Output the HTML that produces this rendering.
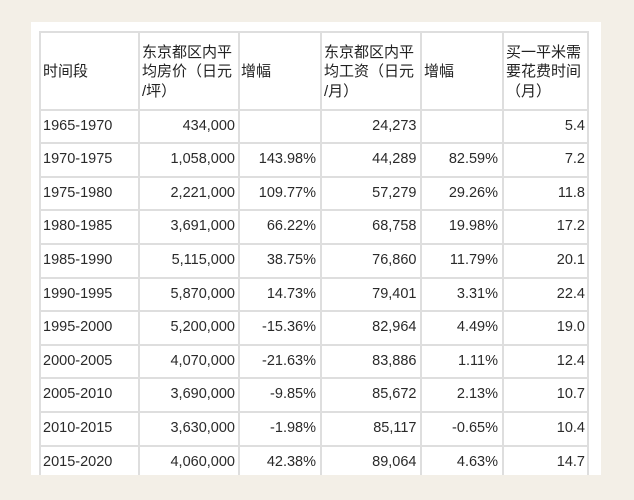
<!DOCTYPE html>
<html><head><meta charset="utf-8">
<style>
html,body{margin:0;padding:0;}
body{width:634px;height:500px;background:#f3efe7;position:relative;overflow:hidden;font-family:"Liberation Sans","Noto Sans CJK SC",sans-serif;color:#2a2a2a;}
.card{position:absolute;left:31px;top:22px;width:570px;height:453px;background:#fff;overflow:hidden;}
.v{position:absolute;width:2px;background:#dedede;top:10px;height:460px;}
.h{position:absolute;height:2px;background:#dedede;left:8px;width:550px;}
.c{position:absolute;font-size:14.5px;height:33.6px;line-height:33.6px;white-space:nowrap;}
.r{text-align:right;}
.hd{position:absolute;font-size:15px;line-height:19.5px;white-space:nowrap;color:#222;}
</style></head><body>
<div class="card">
<div class="v" style="left:7.5px"></div>
<div class="v" style="left:107px"></div>
<div class="v" style="left:206.5px"></div>
<div class="v" style="left:289px"></div>
<div class="v" style="left:389px"></div>
<div class="v" style="left:471px"></div>
<div class="v" style="left:556px"></div>
<div class="h" style="top:9px"></div>
<div class="h" style="top:86.5px"></div>
<div class="h" style="top:120.1px"></div>
<div class="h" style="top:153.7px"></div>
<div class="h" style="top:187.3px"></div>
<div class="h" style="top:220.9px"></div>
<div class="h" style="top:254.5px"></div>
<div class="h" style="top:288.1px"></div>
<div class="h" style="top:321.7px"></div>
<div class="h" style="top:355.3px"></div>
<div class="h" style="top:388.9px"></div>
<div class="h" style="top:422.5px"></div>

<div class="hd" style="left:12px;top:40px">时间段</div>
<div class="hd" style="left:111px;top:20.5px">东京都区内平<br>均房价（日元<br>/坪）</div>
<div class="hd" style="left:210px;top:40px">增幅</div>
<div class="hd" style="left:293px;top:20.5px">东京都区内平<br>均工资（日元<br>/月）</div>
<div class="hd" style="left:393px;top:40px">增幅</div>
<div class="hd" style="left:475px;top:20.5px">买一平米需<br>要花费时间<br>（月）</div>
</div>

<div style="position:absolute;left:31px;top:22px;width:570px;height:453px;overflow:hidden;">
<div class="c" style="left:12px;top:87.5px">1965-1970</div>
<div class="c r" style="right:366px;top:87.5px">434,000</div>
<div class="c r" style="right:184.5px;top:87.5px">24,273</div>
<div class="c r" style="right:16px;top:87.5px">5.4</div>

<div class="c" style="left:12px;top:121.1px">1970-1975</div>
<div class="c r" style="right:366px;top:121.1px">1,058,000</div>
<div class="c r" style="right:285px;top:121.1px">143.98%</div>
<div class="c r" style="right:184.5px;top:121.1px">44,289</div>
<div class="c r" style="right:103px;top:121.1px">82.59%</div>
<div class="c r" style="right:16px;top:121.1px">7.2</div>

<div class="c" style="left:12px;top:154.7px">1975-1980</div>
<div class="c r" style="right:366px;top:154.7px">2,221,000</div>
<div class="c r" style="right:285px;top:154.7px">109.77%</div>
<div class="c r" style="right:184.5px;top:154.7px">57,279</div>
<div class="c r" style="right:103px;top:154.7px">29.26%</div>
<div class="c r" style="right:16px;top:154.7px">11.8</div>

<div class="c" style="left:12px;top:188.3px">1980-1985</div>
<div class="c r" style="right:366px;top:188.3px">3,691,000</div>
<div class="c r" style="right:285px;top:188.3px">66.22%</div>
<div class="c r" style="right:184.5px;top:188.3px">68,758</div>
<div class="c r" style="right:103px;top:188.3px">19.98%</div>
<div class="c r" style="right:16px;top:188.3px">17.2</div>

<div class="c" style="left:12px;top:221.9px">1985-1990</div>
<div class="c r" style="right:366px;top:221.9px">5,115,000</div>
<div class="c r" style="right:285px;top:221.9px">38.75%</div>
<div class="c r" style="right:184.5px;top:221.9px">76,860</div>
<div class="c r" style="right:103px;top:221.9px">11.79%</div>
<div class="c r" style="right:16px;top:221.9px">20.1</div>

<div class="c" style="left:12px;top:255.5px">1990-1995</div>
<div class="c r" style="right:366px;top:255.5px">5,870,000</div>
<div class="c r" style="right:285px;top:255.5px">14.73%</div>
<div class="c r" style="right:184.5px;top:255.5px">79,401</div>
<div class="c r" style="right:103px;top:255.5px">3.31%</div>
<div class="c r" style="right:16px;top:255.5px">22.4</div>

<div class="c" style="left:12px;top:289.1px">1995-2000</div>
<div class="c r" style="right:366px;top:289.1px">5,200,000</div>
<div class="c r" style="right:285px;top:289.1px">-15.36%</div>
<div class="c r" style="right:184.5px;top:289.1px">82,964</div>
<div class="c r" style="right:103px;top:289.1px">4.49%</div>
<div class="c r" style="right:16px;top:289.1px">19.0</div>

<div class="c" style="left:12px;top:322.7px">2000-2005</div>
<div class="c r" style="right:366px;top:322.7px">4,070,000</div>
<div class="c r" style="right:285px;top:322.7px">-21.63%</div>
<div class="c r" style="right:184.5px;top:322.7px">83,886</div>
<div class="c r" style="right:103px;top:322.7px">1.11%</div>
<div class="c r" style="right:16px;top:322.7px">12.4</div>

<div class="c" style="left:12px;top:356.3px">2005-2010</div>
<div class="c r" style="right:366px;top:356.3px">3,690,000</div>
<div class="c r" style="right:285px;top:356.3px">-9.85%</div>
<div class="c r" style="right:184.5px;top:356.3px">85,672</div>
<div class="c r" style="right:103px;top:356.3px">2.13%</div>
<div class="c r" style="right:16px;top:356.3px">10.7</div>

<div class="c" style="left:12px;top:389.9px">2010-2015</div>
<div class="c r" style="right:366px;top:389.9px">3,630,000</div>
<div class="c r" style="right:285px;top:389.9px">-1.98%</div>
<div class="c r" style="right:184.5px;top:389.9px">85,117</div>
<div class="c r" style="right:103px;top:389.9px">-0.65%</div>
<div class="c r" style="right:16px;top:389.9px">10.4</div>

<div class="c" style="left:12px;top:423.5px">2015-2020</div>
<div class="c r" style="right:366px;top:423.5px">4,060,000</div>
<div class="c r" style="right:285px;top:423.5px">42.38%</div>
<div class="c r" style="right:184.5px;top:423.5px">89,064</div>
<div class="c r" style="right:103px;top:423.5px">4.63%</div>
<div class="c r" style="right:16px;top:423.5px">14.7</div>
</div>
</body></html>
